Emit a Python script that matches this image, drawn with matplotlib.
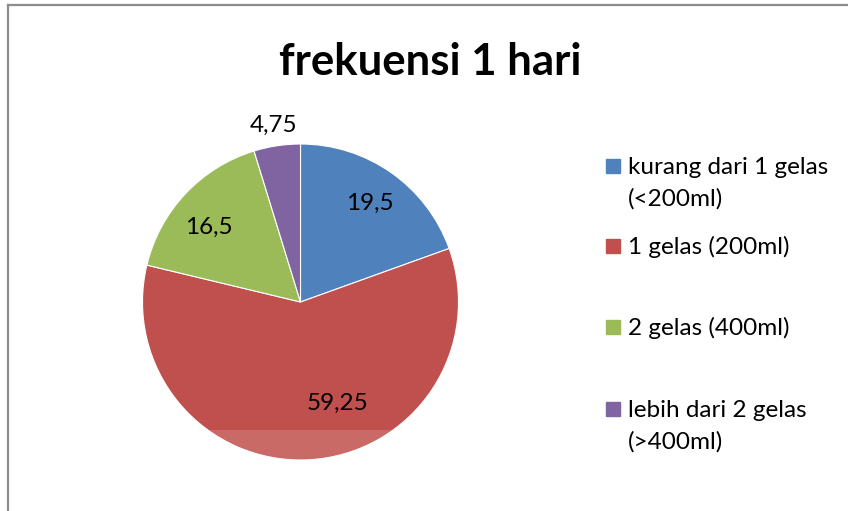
import matplotlib.pyplot as plt
import matplotlib.patches as mpatches
import numpy as np

plt.rcParams['font.family'] = ['Lato', 'DejaVu Sans']

categories = ['kurang dari 1 gelas\n(<200ml)', '1 gelas (200ml)',
              '2 gelas (400ml)', 'lebih dari 2 gelas\n(>400ml)']
values = [19.5, 59.25, 16.5, 4.75]
colors = ['#4F81BD', '#C0504D', '#9BBB59', '#8064A2']

W, H = 848, 511
fig = plt.figure(figsize=(W / 100, H / 100), dpi=100)

# chart border (only top and left visible in the crop)
fig.add_artist(plt.Line2D([7.5 / W, 1], [1 - 5.5 / H, 1 - 5.5 / H], color='#8c8c8c', lw=1.6))
fig.add_artist(plt.Line2D([7.5 / W, 7.5 / W], [0, 1 - 5.5 / H], color='#8c8c8c', lw=1.6))

fig.text(430 / W, 1 - 75 / H, 'frekuensi 1 hari', ha='center', va='baseline',
         fontsize=31.5, fontweight='bold')

# pie
cx, cy, r = 300.5, 302, 158
ax = fig.add_axes([(cx - r) / W, (H - cy - r) / H, 2 * r / W, 2 * r / H])
wedges, _ = ax.pie(values, colors=colors, startangle=90, counterclock=False,
                   radius=1, wedgeprops=dict(edgecolor='white', linewidth=0.8))
ax.set_xlim(-1, 1)
ax.set_ylim(-1, 1)
ax.set_aspect('equal')
ax.axis('off')

label_dist = [0.76, 0.68, 0.75, 1.13]
angle_shift = [0, 17, 4, 0]
for w, v, d, s in zip(wedges, values, label_dist, angle_shift):
    ang = np.deg2rad((w.theta1 + w.theta2) / 2 + s)
    ax.text(d * np.cos(ang), d * np.sin(ang), f'{v:g}'.replace('.', ','),
            ha='center', va='center', fontsize=17.5)

# faint watermark band over the bottom of the pie
ax.add_patch(mpatches.Rectangle((-1, -1), 2, (H - 430 - (H - cy - r)) / r,
                                color='white', alpha=0.15, lw=0, zorder=5))

# legend
leg_y = [166, 246, 327, 409]
for lab, col, y in zip(categories, colors, leg_y):
    fig.patches.append(mpatches.Rectangle((606 / W, 1 - (y + 7) / H), 14 / W, 14 / H,
                                          color=col, transform=fig.transFigure))
    lines = lab.split('\n')
    for i, line in enumerate(lines):
        fig.text(628 / W, 1 - (y + 8 + 32 * i) / H, line, ha='left', va='baseline',
                 fontsize=17.5)

fig.savefig('out.png', dpi=100, facecolor='white')
